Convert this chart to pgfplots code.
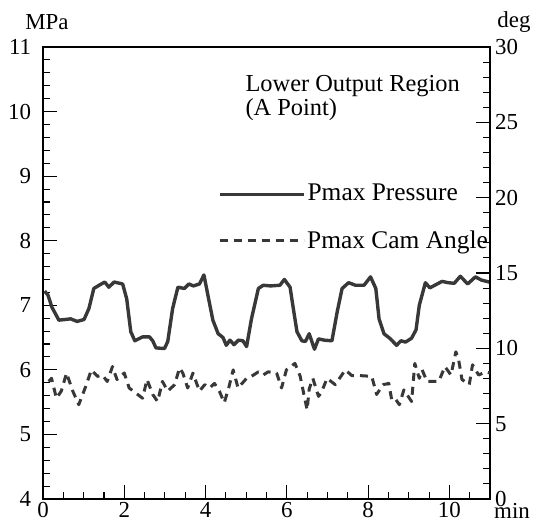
\documentclass[border=0pt]{standalone}
\usepackage{fontspec}
\setmainfont{Liberation Serif}
\usepackage{pgfplots}
\pgfplotsset{compat=1.18}

\pgfplotstableread{
x y
0.04 7.22
0.12 7.16
0.22 6.97
0.39 6.77
0.55 6.78
0.68 6.79
0.84 6.75
1.01 6.78
1.13 6.95
1.25 7.26
1.38 7.31
1.52 7.36
1.62 7.28
1.75 7.36
1.96 7.33
2.06 7.10
2.16 6.59
2.26 6.45
2.45 6.51
2.62 6.51
2.70 6.45
2.78 6.34
2.99 6.33
3.07 6.44
3.19 6.95
3.32 7.28
3.48 7.26
3.59 7.33
3.70 7.30
3.85 7.33
3.96 7.47
4.06 7.15
4.18 6.77
4.31 6.56
4.43 6.50
4.51 6.38
4.60 6.46
4.70 6.39
4.81 6.46
4.92 6.45
5.01 6.36
5.13 6.79
5.30 7.26
5.42 7.31
5.60 7.30
5.83 7.31
5.94 7.40
6.08 7.28
6.16 6.95
6.25 6.59
6.37 6.45
6.46 6.44
6.55 6.56
6.68 6.32
6.78 6.48
6.92 6.46
7.11 6.45
7.24 6.90
7.36 7.26
7.52 7.35
7.69 7.31
7.90 7.31
8.06 7.44
8.19 7.26
8.27 6.79
8.39 6.56
8.55 6.48
8.70 6.38
8.81 6.45
8.92 6.43
9.07 6.49
9.18 6.62
9.26 7.00
9.41 7.35
9.52 7.27
9.67 7.32
9.82 7.37
9.97 7.35
10.12 7.34
10.27 7.45
10.45 7.33
10.64 7.44
10.79 7.39
10.98 7.36
}\pressure

\pgfplotstableread{
x y
0.14 7.80
0.21 8.01
0.33 6.69
0.45 7.16
0.58 8.36
0.72 7.24
0.88 6.26
1.05 7.46
1.19 8.57
1.34 8.14
1.46 8.23
1.58 7.80
1.71 8.79
1.82 7.93
2.00 8.36
2.12 7.37
2.45 6.69
2.56 7.93
2.70 6.94
2.82 6.47
2.94 7.80
3.07 7.16
3.24 7.59
3.36 8.70
3.44 8.36
3.56 7.37
3.69 8.36
3.85 7.16
3.98 7.59
4.10 7.37
4.22 7.67
4.34 7.16
4.46 6.39
4.57 7.37
4.68 8.57
4.80 7.37
5.01 8.01
5.13 8.14
5.30 8.44
5.42 8.23
5.54 8.44
5.75 8.36
5.87 7.37
5.99 8.57
6.20 9.00
6.33 8.14
6.42 6.94
6.50 5.91
6.55 7.29
6.64 8.01
6.78 6.81
6.85 7.07
6.99 8.01
7.19 7.59
7.44 8.57
7.60 8.19
7.80 8.19
8.09 8.14
8.21 6.94
8.37 7.59
8.51 7.67
8.58 6.60
8.66 6.69
8.77 6.26
8.88 7.24
9.07 6.47
9.15 9.00
9.26 8.01
9.33 8.57
9.45 7.80
9.59 7.80
9.74 7.80
9.89 8.79
10.04 8.23
10.16 9.77
10.23 9.21
10.31 7.93
10.49 7.59
10.57 8.91
10.72 8.23
10.90 8.44
11.00 8.36
}\camangle

\begin{document}
\fontsize{23}{25}\selectfont
\begin{tikzpicture}
\useasboundingbox (-43bp,-25bp) rectangle (495bp,499bp);
\pgfplotsset{
  common/.style={
    scale only axis, width=447bp, height=452bp, at={(0,0)}, anchor=south west,
    xmin=0, xmax=11,
    tick align=inside,
    major tick length=14bp, minor tick length=7bp,
    every tick/.style={black, line width=1.1bp},
    /pgf/number format/assume math mode=true,
    tick label style={font=\fontsize{23}{25}\selectfont},
    legend style={draw=none, fill=none, inner sep=0pt, outer sep=0pt,
      font=\fontsize{25.5}{27}\selectfont, legend cell align=left,
      /tikz/every even column/.append style={column sep=2bp}},
    legend image code/.code={\draw[##1] (0bp,0bp) -- (84bp,0bp);},
  }
}
\begin{axis}[common,
  clip=false,
  ymin=4, ymax=11,
  xtick={0,2,...,10}, minor xtick={0,0.5,...,11},
  ytick={4,...,11}, minor y tick num=4,
  xtick pos=left, ytick pos=left,
  axis line style={line width=1.3bp},
  xticklabel style={inner sep=1bp, yshift=-2bp},
  yticklabel style={xshift=-4bp},
  legend style={at={(0.392,0.674)}, anchor=west},
]
\addplot[line width=3.4bp, color=black!78, line join=round] table[x=x,y=y] {\pressure};
\addlegendentry{Pmax Pressure}
\node[anchor=north west, align=left, inner sep=0pt, font=\fontsize{24.5}{24}\selectfont] at (axis cs:4.98,10.57) {Lower Output Region\\(A Point)};
\node[anchor=base, inner sep=0pt] at ([xshift=4bp,yshift=17bp]rel axis cs:0,1) {MPa};
\node[anchor=base, inner sep=0pt] at ([xshift=24bp,yshift=19bp]rel axis cs:1,1) {deg};
\node[anchor=base, inner sep=0pt] at ([xshift=22bp,yshift=-19.5bp]rel axis cs:1,0) {min};
\end{axis}
\begin{axis}[common,
  ymin=0, ymax=30,
  ytick={0,5,...,30}, minor y tick num=4,
  axis x line=none, axis y line*=right,
  axis line style={line width=1.3bp},
  yticklabel style={inner sep=1bp, xshift=4bp},
  legend style={at={(0.392,0.571)}, anchor=west},
]
\addplot[line width=3bp, color=black!78, dash pattern=on 8bp off 6bp, line join=round] table[x=x,y=y] {\camangle};
\addlegendentry{Pmax Cam Angle}
\end{axis}
\end{tikzpicture}
\end{document}
